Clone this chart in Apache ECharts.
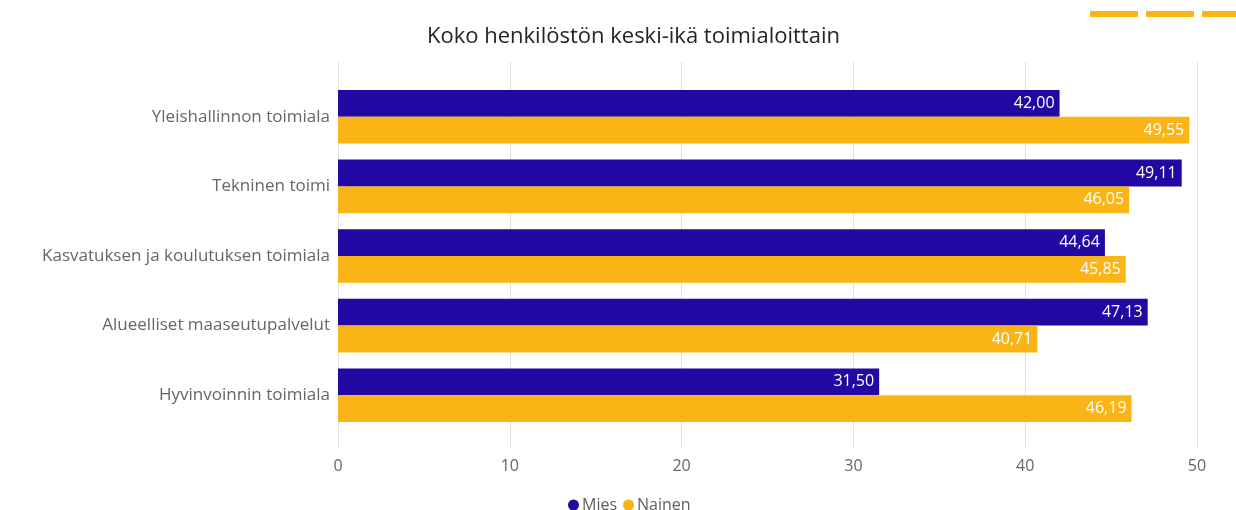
<!DOCTYPE html>
<html><head><meta charset="utf-8">
<script src="https://cdn.jsdelivr.net/npm/echarts@6/dist/echarts.min.js"></script>
<style>html,body{margin:0;padding:0;background:#fff}#c{width:1236px;height:510px}</style>
</head><body><div id="c"></div>
<script>
const categories = ["Yleishallinnon toimiala","Tekninen toimi","Kasvatuksen ja koulutuksen toimiala","Alueelliset maaseutupalvelut","Hyvinvoinnin toimiala"];
const mies = [42.00, 49.11, 44.64, 47.13, 31.50];
const nainen = [49.55, 46.05, 45.85, 40.71, 46.19];
const xTicks = [0, 10, 20, 30, 40, 50];
const seriesNames = ["Mies", "Nainen"];

const FONT = '"Segoe UI", "Open Sans", "Noto Sans", sans-serif';
const fmt = v => v.toFixed(2).replace('.', ',');
const chart = echarts.init(document.getElementById('c'), null, {renderer: 'canvas'});
chart.setOption({
  animation: false,
  textStyle: {fontFamily: FONT},
  title: {text: 'Koko henkilöstön keski-ikä toimialoittain', left: 422, top: 21,
    textStyle: {fontSize: 22, fontWeight: 'normal', color: '#252423', fontFamily: FONT}},
  legend: {top: 492, left: 563, icon: 'circle', itemWidth: 11, itemHeight: 11, itemGap: 6,
    textStyle: {fontSize: 16, color: '#605E5C', fontFamily: FONT, padding: [0, 0, 0, -2]}, data: seriesNames},
  grid: [
    {left: 338, right: 39, top: 62, bottom: 62},
    {left: 338, right: 39, top: 82, height: 348}
  ],
  xAxis: [
    {gridIndex: 0, type: 'value', min: xTicks[0], max: xTicks[xTicks.length-1], interval: 10,
      axisLine: {show: false}, axisTick: {show: false},
      axisLabel: {fontSize: 16, color: '#666666', margin: 10, fontFamily: FONT},
      splitLine: {lineStyle: {color: '#E1E1E1', width: 1}}},
    {gridIndex: 1, type: 'value', min: xTicks[0], max: xTicks[xTicks.length-1], interval: 10, show: false,
      splitLine: {show: false}}
  ],
  yAxis: [
    {gridIndex: 0, type: 'category', data: categories, show: false, inverse: true},
    {gridIndex: 1, type: 'category', data: categories, inverse: true,
      axisLine: {show: false}, axisTick: {show: false},
      axisLabel: {fontSize: 17, color: '#666666', margin: 8, fontFamily: FONT}}
  ],
  series: [
    {name: seriesNames[0], type: 'bar', xAxisIndex: 1, yAxisIndex: 1, data: mies,
      barGap: '0%', barCategoryGap: '23%',
      itemStyle: {color: '#2309A3'},
      label: {show: true, position: 'insideRight', distance: 5, color: '#fff', fontSize: 16, fontFamily: FONT,
        formatter: p => fmt(p.value)}},
    {name: seriesNames[1], type: 'bar', xAxisIndex: 1, yAxisIndex: 1, data: nainen,
      barGap: '0%', barCategoryGap: '23%',
      itemStyle: {color: '#FBB416'},
      label: {show: true, position: 'insideRight', distance: 5, color: '#fff', fontSize: 16, fontFamily: FONT,
        formatter: p => fmt(p.value)}}
  ],
  graphic: [
    {type: 'rect', shape: {x: 1090, y: 11, width: 48, height: 6}, style: {fill: '#FBB416'}},
    {type: 'rect', shape: {x: 1146, y: 11, width: 48, height: 6}, style: {fill: '#FBB416'}},
    {type: 'rect', shape: {x: 1202, y: 11, width: 34, height: 6}, style: {fill: '#FBB416'}}
  ]
});
</script></body></html>
